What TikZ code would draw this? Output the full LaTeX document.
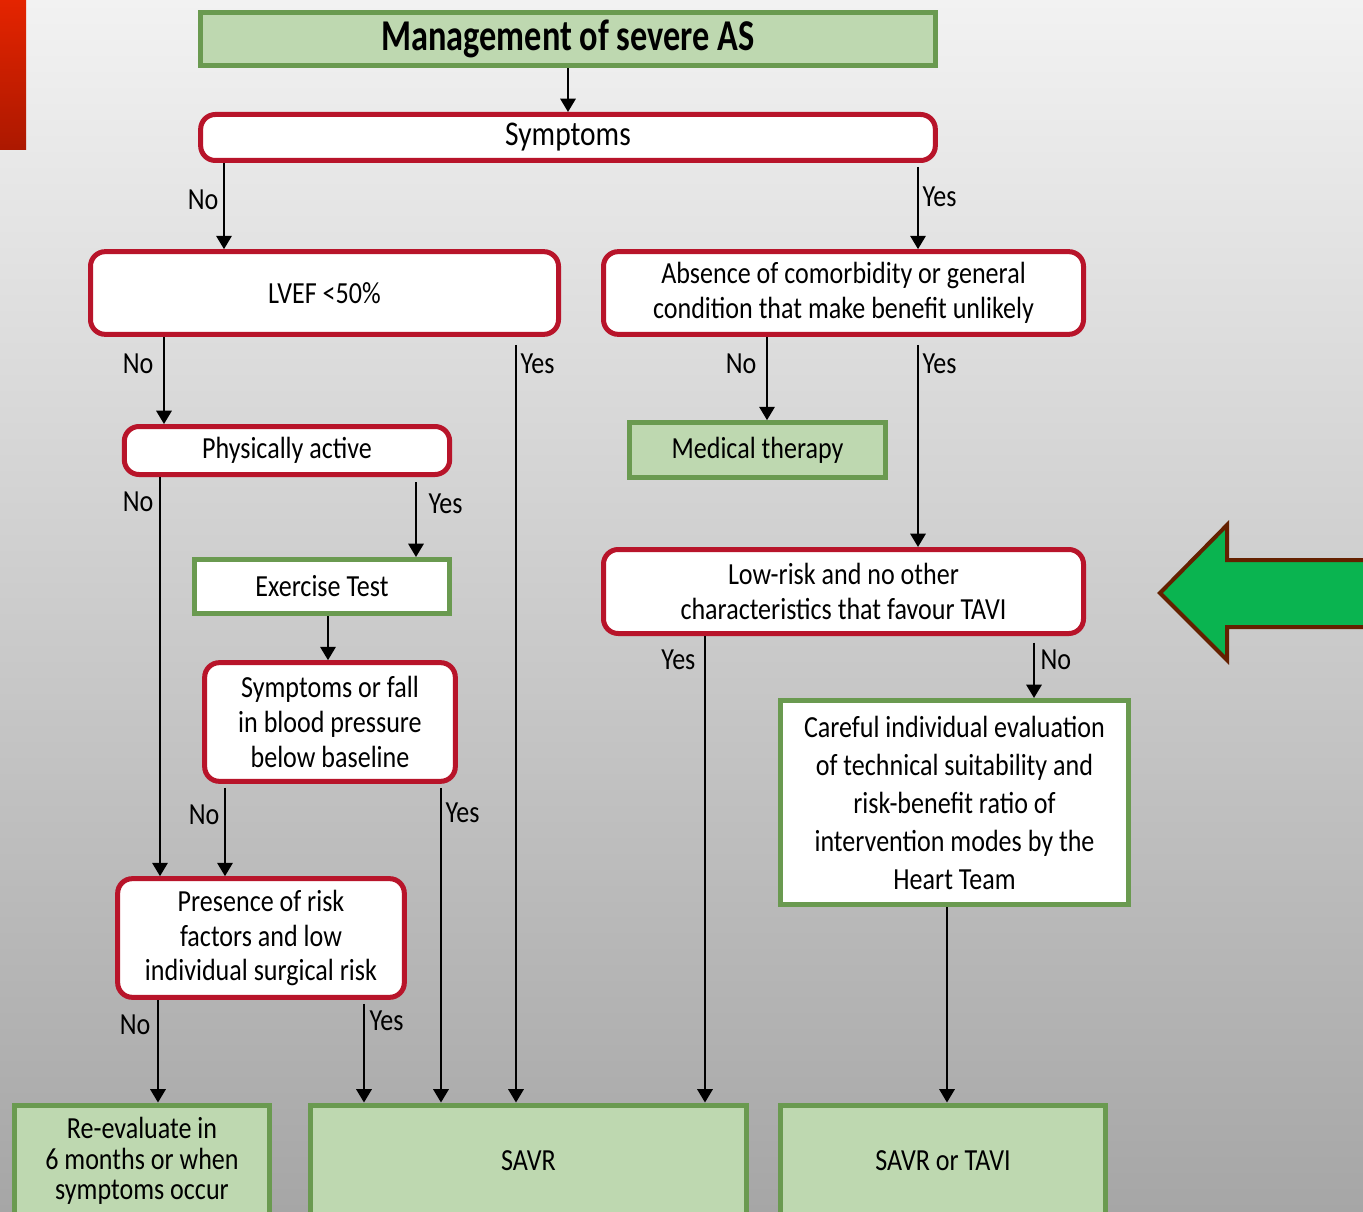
\documentclass[tikz,border=0pt]{standalone}
\usepackage{fontspec}
\setmainfont[FakeStretch=0.85]{Carlito}
\newfontfamily\titlefont[FakeStretch=0.78]{Carlito}
\usetikzlibrary{arrows.meta,positioning,calc}
\definecolor{bgTop}{RGB}{242,242,242}
\definecolor{bgBot}{RGB}{166,166,166}
\definecolor{boxGreen}{RGB}{190,216,176}
\definecolor{edgeGreen}{RGB}{106,154,80}
\definecolor{edgeRed}{RGB}{184,20,42}
\definecolor{arrGreen}{RGB}{10,180,80}
\definecolor{arrBrown}{RGB}{100,32,0}
\definecolor{barTop}{RGB}{228,36,0}
\definecolor{barBot}{RGB}{172,24,0}
\tikzset{
  base/.style={align=center, inner sep=2pt, font=\fontsize{23}{26}\selectfont},
  query/.style={base, draw=edgeRed, fill=white, line width=3.75pt, rounded corners=11pt},
  result/.style={base, draw=edgeGreen, fill=boxGreen, line width=3.75pt},
  plainbox/.style={base, draw=edgeGreen, fill=white, line width=3.75pt},
  flow/.style={-{Triangle[width=11.5pt,length=10pt]}, line width=1.6pt},
  lbl/.style={font=\fontsize{23}{26}\selectfont, inner sep=1pt},
}
\begin{document}
\begin{tikzpicture}[x=0.75pt, y=-0.75pt]
  \useasboundingbox (0,0) rectangle (1363,1212);
  \clip (0,0) rectangle (1363,1212);
  % --- backdrop ---
  \shade[top color=bgTop, bottom color=bgBot] (0,0) rectangle (1363,1212);
  \shade[top color=barTop, bottom color=barBot] (0,0) rectangle (26,150);
  % --- boxes ---
  \node[result, minimum width=551pt, minimum height=40pt,
        font=\titlefont\fontsize{33}{36}\selectfont\bfseries] (title) at (568,39) {Management of severe AS};
  \node[query, minimum width=551pt, minimum height=34.5pt,
        font=\fontsize{26}{28}\selectfont] (symp) at (568,137.5) {Symptoms};
  \node[query, minimum width=351pt, minimum height=62pt] (lvef) at (324.5,293) {LVEF <50\%};
  \node[query, minimum width=360pt, minimum height=62pt] (absence) at (843.5,293)
    {Absence of comorbidity or general\\condition that make benefit unlikely};
  \node[query, minimum width=244pt, minimum height=36pt] (active) at (287,450.5) {Physically active};
  \node[result, minimum width=192pt, minimum height=41pt] (medical) at (757.5,450) {Medical therapy};
  \node[plainbox, minimum width=191pt, minimum height=40.5pt] (exercise) at (322,586.5) {Exercise Test};
  \node[query, minimum width=188pt, minimum height=89pt] (fall) at (330,722)
    {Symptoms or fall\\in blood pressure\\below baseline};
  \node[query, minimum width=215pt, minimum height=89pt] (risk) at (261,938)
    {Presence of risk\\factors and low\\individual surgical risk};
  \node[query, minimum width=360pt, minimum height=63pt] (lowrisk) at (843.5,591.5)
    {Low-risk and no other\\characteristics that favour TAVI};
  \node[plainbox, minimum width=261pt, minimum height=153pt,
        font=\fontsize{23}{28.5}\selectfont] (heart) at (954.5,802.5)
    {Careful individual evaluation\\of technical suitability and\\risk-benefit ratio of\\intervention modes by the\\Heart Team};
  \node[result, minimum width=191pt, minimum height=84pt,
        font=\fontsize{23}{23}\selectfont] (reeval) at (142,1161)
    {Re-evaluate in\\6 months or when\\symptoms occur};
  \node[result, minimum width=327pt, minimum height=84pt] (savr) at (528.5,1161) {SAVR};
  \node[result, minimum width=244pt, minimum height=84pt] (savrtavi) at (943,1161) {SAVR or TAVI};
  % --- connectors ---
  \draw[flow] (title) -- (symp);
  \draw[flow] (symp.south -| 224,0) -- (lvef.north -| 224,0);
  \draw[flow, shorten <=3pt] (symp.south -| 918,0) -- (absence.north -| 918,0);
  \draw[flow] (lvef.south -| 164,0) -- (active.north -| 164,0);
  \draw[flow, shorten <=6pt] (lvef.south -| 516,0) -- (savr.north -| 516,0);
  \draw[flow] (absence.south -| 767,0) -- (medical.north -| 767,0);
  \draw[flow, shorten <=6pt] (absence.south -| 918,0) -- (lowrisk.north -| 918,0);
  \draw[flow] (active.south -| 160,0) -- (risk.north -| 160,0);
  \draw[flow, shorten <=4pt] (active.south -| 416,0) -- (exercise.north -| 416,0);
  \draw[flow] (exercise.south -| 328,0) -- (fall.north -| 328,0);
  \draw[flow, shorten <=3pt] (fall.south -| 225,0) -- (risk.north -| 225,0);
  \draw[flow, shorten <=3pt] (fall.south -| 441,0) -- (savr.north -| 441,0);
  \draw[flow] (risk.south -| 158,0) -- (reeval.north -| 158,0);
  \draw[flow, shorten <=3pt] (risk.south -| 364,0) -- (savr.north -| 364,0);
  \draw[flow] (lowrisk.south -| 705,0) -- (savr.north -| 705,0);
  \draw[flow, shorten <=5pt] (lowrisk.south -| 1034,0) -- (heart.north -| 1034,0);
  \draw[flow] (heart.south -| 947,0) -- (savrtavi.north -| 947,0);
  % --- yes / no labels ---
  \node[lbl, anchor=east] (n1) at (220,200) {No};
  \node[lbl, anchor=west] (y1) at (921,197) {Yes};
  \node[lbl, anchor=east] (n2) at (155,364) {No};
  \node[lbl, anchor=west] (y2) at (519,364) {Yes};
  \node[lbl, anchor=east] (n3) at (758,364) {No};
  \node[lbl, anchor=west] (y3) at (921,364) {Yes};
  \node[lbl, anchor=east] (n4) at (155,502) {No};
  \node[lbl, anchor=west] (y4) at (427,504) {Yes};
  \node[lbl, anchor=east] (n5) at (221,815) {No};
  \node[lbl, anchor=west] (y5) at (444,813) {Yes};
  \node[lbl, anchor=east] (n6) at (152,1025) {No};
  \node[lbl, anchor=west] (y6) at (368,1021) {Yes};
  \node[lbl, anchor=east] (y7) at (697,660) {Yes};
  \node[lbl, anchor=west] (n7) at (1039,660) {No};
  % --- pointer arrow ---
  \draw[fill=arrGreen, draw=arrBrown, line width=3pt, line join=miter]
    (1160,593) -- (1227,525) -- (1227,560) -- (1375,560) -- (1375,627)
    -- (1227,627) -- (1227,660) -- cycle;
\end{tikzpicture}
\end{document}
